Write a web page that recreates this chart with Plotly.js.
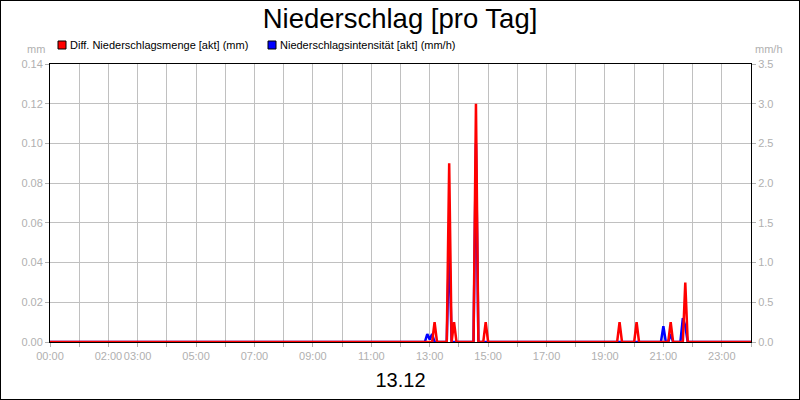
<!DOCTYPE html>
<html>
<head>
<meta charset="utf-8">
<script src="https://cdn.plot.ly/plotly-3.0.1.min.js"></script>
<style>
  html, body { margin: 0; padding: 0; background: #fff; }
  #chart { width: 798px; height: 398px; border: 1px solid #000; }
</style>
</head>
<body>
<div id="chart"></div>
<script>
// Diff. Niederschlagsmenge (mm), 5-minute values, left axis
var mengeTimes = ["00:00", "13:05", "13:10", "13:15", "13:35", "13:40", "13:45", "13:50", "13:55",
  "14:30", "14:35", "14:40", "14:50", "14:55", "15:00", "19:25", "19:30", "19:35",
  "20:00", "20:05", "20:10", "21:10", "21:15", "21:20", "21:40", "21:45", "21:50", "24:00"];
var mengeValues = [0, 0, 0.01, 0, 0, 0.09, 0, 0.01, 0,
  0, 0.12, 0, 0, 0.01, 0, 0, 0.01, 0,
  0, 0.01, 0, 0, 0.01, 0, 0, 0.03, 0, 0];

// Niederschlagsintensität (mm/h), right axis
var intensTimes = ["00:00", "12:50", "12:55", "13:00", "13:05", "13:10", "13:35", "13:40", "13:45",
  "14:30", "14:35", "14:40", "20:55", "21:00", "21:05", "21:10", "21:15", "21:20",
  "21:35", "21:40", "21:45", "21:50", "24:00"];
var intensValues = [0, 0, 0.1, 0.03, 0.1, 0, 0, 1.3, 0,
  0, 2.5, 0, 0, 0.2, 0, 0, 0.1, 0,
  0, 0.3, 0.2, 0, 0];

var seriesNames = ["Diff. Niederschlagsmenge [akt] (mm)", "Niederschlagsintensität [akt] (mm/h)"];
var seriesColors = ["#ff0000", "#0000ff"];

var hourTicks = [];
for (var h = 0; h <= 24; h++) hourTicks.push(h);
var hourLabels = ["00:00", "", "02:00", "03:00", "", "05:00", "", "07:00", "", "09:00", "", "11:00", "",
  "13:00", "", "15:00", "", "17:00", "", "19:00", "", "21:00", "", "23:00", ""];

function toHours(t) {
  var p = t.split(":");
  return +p[0] + (+p[1]) / 60;
}

var grey = "#b0b0b0";
var font = "Liberation Sans, Arial, sans-serif";

// blue goes on the base axis so the red trace (overlay axis) is drawn on top
var blue = {
  x: intensTimes.map(toHours), y: intensValues, yaxis: "y",
  mode: "lines", line: { color: seriesColors[1], width: 2.5 },
  name: seriesNames[1], showlegend: false, hoverinfo: "skip"
};
var red = {
  x: mengeTimes.map(toHours), y: mengeValues, yaxis: "y2",
  mode: "lines", line: { color: seriesColors[0], width: 2.5 },
  name: seriesNames[0], showlegend: false, hoverinfo: "skip"
};

// legend squares + labels
var legendX = [12, 222];
var shapes = [];
var annotations = [];
for (var i = 0; i < 2; i++) {
  shapes.push({
    type: "rect", xref: "paper", yref: "paper",
    x0: (legendX[i] - 4) / 701, x1: (legendX[i] + 4) / 701,
    y0: 1 + 15 / 278, y1: 1 + 23 / 278,
    fillcolor: seriesColors[i], line: { color: "#000", width: 1 }
  });
  annotations.push({
    xref: "paper", yref: "paper", x: (legendX[i] + 6) / 701, y: 1 + 19 / 278,
    xanchor: "left", yanchor: "middle", showarrow: false,
    text: seriesNames[i], font: { family: font, size: 11, color: "#000" }
  });
}
annotations.push({
  xref: "paper", yref: "paper", x: -3 / 701, y: 1 + 15 / 278,
  xanchor: "right", yanchor: "middle", showarrow: false,
  text: "mm", font: { family: font, size: 11, color: grey }
});
annotations.push({
  xref: "paper", yref: "paper", x: 1 + 2 / 701, y: 1 + 15 / 278,
  xanchor: "left", yanchor: "middle", showarrow: false,
  text: "mm/h", font: { family: font, size: 11, color: grey }
});

var layout = {
  width: 798, height: 398,
  margin: { l: 49, r: 48, t: 63, b: 57 },
  paper_bgcolor: "#fff", plot_bgcolor: "#fff",
  font: { family: font, size: 11, color: grey },
  title: {
    text: "Niederschlag [pro Tag]",
    font: { family: font, size: 27.5, color: "#000" },
    x: 0.5, xanchor: "center", y: 1 - 17 / 398, yanchor: "middle", yref: "container"
  },
  showlegend: false,
  xaxis: {
    range: [0, 24], tickmode: "array", tickvals: hourTicks, ticktext: hourLabels, tickangle: 0,
    showgrid: true, gridcolor: "#c0c0c0", gridwidth: 1, layer: "below traces",
    showline: true, linecolor: "#000", linewidth: 1, mirror: true,
    ticks: "outside", ticklen: 4, tickcolor: grey, zeroline: false,
    tickfont: { family: font, size: 11, color: grey },
    title: { text: "13.12", font: { family: font, size: 20, color: "#000" }, standoff: 11 }
  },
  yaxis: {
    side: "right", range: [0, 3.5], dtick: 0.5, tick0: 0, tickformat: ".1f",
    showgrid: true, gridcolor: "#c0c0c0", gridwidth: 1, layer: "below traces",
    showline: true, linecolor: "#000", linewidth: 1,
    ticks: "outside", ticklen: 4, tickcolor: grey, zeroline: false,
    tickfont: { family: font, size: 11, color: grey }
  },
  yaxis2: {
    overlaying: "y", side: "left", range: [0, 0.14], dtick: 0.02, tick0: 0, tickformat: ".2f",
    showgrid: false, showline: true, linecolor: "#000", linewidth: 1, layer: "below traces",
    ticks: "outside", ticklen: 4, tickcolor: grey, zeroline: false,
    tickfont: { family: font, size: 11, color: grey }
  },
  shapes: shapes,
  annotations: annotations
};

Plotly.newPlot("chart", [blue, red], layout, { staticPlot: true, displayModeBar: false });
</script>
</body>
</html>
